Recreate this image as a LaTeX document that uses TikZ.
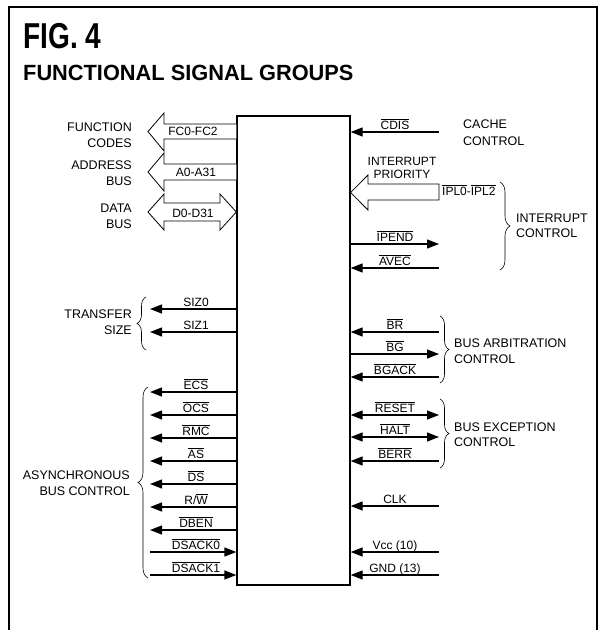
\documentclass[tikz,border=0pt]{standalone}
\usepackage{fontspec}
\usepackage{graphicx}
\setmainfont{Liberation Sans}
\usetikzlibrary{arrows.meta,decorations.pathreplacing}
\newcommand{\ovl}[1]{\ensuremath{\overline{\hbox{#1}}}}
\begin{document}
\begin{tikzpicture}[x=1pt,y=-1pt,
  tip/.tip={Triangle[length=12pt,width=9pt]},
  sigin/.style={line width=1.3pt,-tip},
  sigbi/.style={line width=1.3pt,tip-tip},
  fat/.style={line width=0.8pt,fill=white,line join=miter},
  lab/.style={font=\fontsize{12}{14}\selectfont,inner sep=0pt,anchor=base},
  grpR/.style={font=\fontsize{12.5}{15}\selectfont,inner sep=0pt,anchor=base east},
  grpL/.style={font=\fontsize{12.5}{15}\selectfont,inner sep=0pt,anchor=base west},
  brc/.style={decorate,decoration={brace,amplitude=9pt},line width=0.6pt}]
\useasboundingbox (0,0) rectangle (602,630);
% frame
\draw[line width=1.6pt] (9,650) -- (9,7) -- (597,7) -- (597,650);
% title
\node[anchor=base west,inner sep=0pt,font=\bfseries\fontsize{36}{38}\selectfont] (fig) at (23,48) {\scalebox{0.78}[1]{FIG. 4}};
\node[anchor=base west,inner sep=0pt,font=\bfseries\fontsize{22}{24}\selectfont] (ttl) at (23,80) {\scalebox{0.99}[1]{FUNCTIONAL SIGNAL GROUPS}};
% chip
\node[draw,line width=1.3pt,minimum width=113pt,minimum height=469pt,inner sep=0pt] (chip) at (293.5,350.5) {};
% ---------- left fat arrows
\draw[fat] (chip.west |- 0,124) -- (164,124) -- (164,113) -- (148,131.5) -- (164,151) -- (164,139) -- (chip.west |- 0,139);
\draw[fat] (chip.west |- 0,164) -- (164,164) -- (164,153) -- (148,172) -- (164,191) -- (164,180) -- (chip.west |- 0,180);
\draw[fat] (148,212) -- (164,194) -- (164,203) -- (220,203) -- (220,194) -- (chip.west |- 0,212) -- (220,230) -- (220,221) -- (164,221) -- (164,230) -- cycle;
\node[lab] (fc) at (193,135) {FC0-FC2};
\node[lab] (adr) at (196,176.5) {A0-A31};
\node[lab] (dat) at (193,217) {D0-D31};
\node[grpR] (g1a) at (132,131) {FUNCTION};
\node[grpR] (g1b) at (132,147) {CODES};
\node[grpR] (g2a) at (132,169) {ADDRESS};
\node[grpR] (g2b) at (132,185) {BUS};
\node[grpR] (g3a) at (132,212) {DATA};
\node[grpR] (g3b) at (132,228) {BUS};
% ---------- left single arrows (outputs)
\foreach \y/\t in {309/SIZ0,332/SIZ1,392/\ovl{ECS},415/\ovl{OCS},438/\ovl{RMC},461/\ovl{AS},484/\ovl{DS},507/{R/\ovl{W}},530/\ovl{DBEN}}{
  \coordinate (L\y) at (150,\y);
  \draw[sigin] (chip.west |- L\y) -- (L\y);
  \node[lab] (nL\y) at (196,\y-3) {\t};
}
\foreach \y/\t in {552/\ovl{DSACK0},575/\ovl{DSACK1}}{
  \coordinate (L\y) at (150,\y);
  \draw[sigin] (L\y) -- (chip.west |- L\y);
  \node[lab] (nL\y) at (196,\y-3) {\t};
}
\coordinate (b1t) at (146,350); \coordinate (b1b) at (146,297);
\draw[brc] (b1t) -- (b1b);
\node[grpR] (g4a) at (132,318) {TRANSFER};
\node[grpR] (g4b) at (132,334) {SIZE};
\coordinate (b2t) at (148,578); \coordinate (b2b) at (148,387);
\draw[brc,decoration={amplitude=10pt}] (b2t) -- (b2b);
\node[grpR] (g5a) at (130,479) {ASYNCHRONOUS};
\node[grpR] (g5b) at (130,495) {BUS CONTROL};
% ---------- right side
\foreach \y/\t in {132/\ovl{CDIS},268/\ovl{AVEC},332/\ovl{BR},377/\ovl{BGACK},461/\ovl{BERR},506/CLK,552/{Vcc (10)},575/{GND (13)}}{
  \coordinate (R\y) at (439,\y);
  \draw[sigin] (R\y) -- (chip.east |- R\y);
  \node[lab] (nR\y) at (395,\y-3) {\t};
}
\foreach \y/\t in {244/\ovl{IPEND},354/\ovl{BG}}{
  \coordinate (R\y) at (439,\y);
  \draw[sigin] (chip.east |- R\y) -- (R\y);
  \node[lab] (nR\y) at (395,\y-3) {\t};
}
\foreach \y/\t in {415/\ovl{RESET},437/\ovl{HALT}}{
  \coordinate (R\y) at (439,\y);
  \draw[sigbi] (chip.east |- R\y) -- (R\y);
  \node[lab] (nR\y) at (395,\y-3) {\t};
}
% interrupt priority fat arrow
\draw[fat] (439,184) -- (368,184) -- (368,175) -- (chip.east |- 0,192.5) -- (368,210) -- (368,200) -- (439,200) -- cycle;
\node[lab] (ipa) at (402,165) {INTERRUPT};
\node[lab] (ipb) at (402,178) {PRIORITY};
\node[lab,anchor=base west] (ipl) at (442,195) {\ovl{IPL0}-\ovl{IPL2}};
\node[grpL] (cca) at (463,128) {CACHE};
\node[grpL] (ccb) at (463,145) {CONTROL};
% braces right
\coordinate (b3t) at (500,182); \coordinate (b3b) at (500,270);
\draw[brc,decoration={amplitude=10pt}] (b3t) -- (b3b);
\node[grpL] (ica) at (516,222) {INTERRUPT};
\node[grpL] (icb) at (516,237) {CONTROL};
\coordinate (b4t) at (440,316); \coordinate (b4b) at (440,383);
\draw[brc] (b4t) -- (b4b);
\node[grpL] (baa) at (454,347) {BUS ARBITRATION};
\node[grpL] (bab) at (454,363) {CONTROL};
\coordinate (b5t) at (440,399); \coordinate (b5b) at (440,468);
\draw[brc] (b5t) -- (b5b);
\node[grpL] (bea) at (454,431) {BUS EXCEPTION};
\node[grpL] (beb) at (454,446) {CONTROL};
\end{tikzpicture}
\end{document}
